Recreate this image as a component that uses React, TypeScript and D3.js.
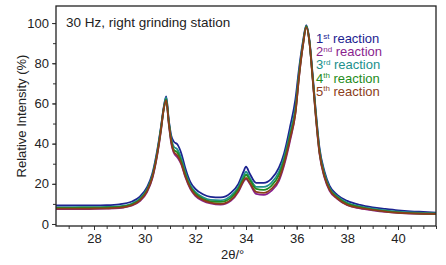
import React, { useEffect, useRef } from 'react'
import { select, scaleLinear, line, curveMonotoneX, axisBottom, axisLeft, range } from 'd3'

// 2theta positions shared by all scans
const twoTheta = [26.5, 27, 27.5, 28, 28.5, 29, 29.5, 29.8, 30.1, 30.3, 30.5, 30.65, 30.75, 30.85, 30.95, 31.05, 31.15, 31.3, 31.45, 31.6, 31.8, 32, 32.3, 32.6, 33, 33.4, 33.7, 33.9, 34.0, 34.15, 34.4, 34.7, 35, 35.3, 35.5, 35.75, 35.95, 36.1, 36.25, 36.38, 36.5, 36.62, 36.75, 36.9, 37.1, 37.3, 37.6, 38, 38.5, 39, 39.5, 40, 40.5, 41, 41.5]

const reaction1 = [9.2, 9.2, 9.3, 9.3, 9.4, 9.8, 11.2, 13.5, 18.5, 25, 37, 49, 58, 63.5, 52, 44, 41, 39.5, 35, 28, 21, 17.5, 14.8, 13.5, 13.2, 15.5, 20, 26, 28.5, 25, 20.5, 20.5, 22.5, 28, 35, 49, 62, 78, 91, 99, 92, 76, 57, 38, 26, 19, 14.5, 11.5, 9.5, 8.3, 7.5, 6.8, 6.3, 6, 5.7]
const reaction2 = [7.4, 7.4, 7.4, 7.5, 7.6, 7.9, 9.2, 11.3, 16, 22.5, 34.5, 47, 57, 62, 50, 40, 35.5, 33, 29.5, 23.5, 17.5, 14, 11.5, 10.2, 9.6, 11.5, 16, 21, 22.5, 20, 15, 14.5, 16.5, 21.5, 29, 42, 55, 74, 89, 98, 91, 74, 54, 35, 23, 16.5, 12.5, 9.3, 7.8, 6.8, 6, 5.5, 5.2, 5, 4.9]
const reaction3 = [8.3, 8.3, 8.4, 8.4, 8.5, 8.8, 10.2, 12.5, 17.5, 24, 36, 48.5, 57.5, 63, 51.5, 42.5, 38.5, 37, 32.5, 26, 19.5, 16, 13.3, 12, 11.8, 14, 18.5, 24, 26, 23, 18.5, 18.5, 20.5, 26, 33, 46, 58, 76, 90, 98.5, 91.5, 75, 56, 37, 25, 18, 13.8, 10.5, 8.8, 7.6, 6.8, 6.2, 5.8, 5.5, 5.3]
const reaction4 = [8.0, 8.0, 8.1, 8.1, 8.2, 8.5, 9.8, 12, 17, 23.5, 35.5, 48, 57, 62, 51, 41.5, 37, 35.5, 31, 25, 18.5, 15.2, 12.5, 11.2, 11, 13, 17.5, 22.5, 24.5, 22, 17.5, 17, 19, 24.5, 31.5, 44.5, 56, 75, 89.5, 98.5, 91, 74.5, 55, 36, 24, 17.5, 13.3, 10, 8.4, 7.2, 6.4, 5.8, 5.4, 5.2, 5.1]
const reaction5 = [7.6, 7.6, 7.6, 7.7, 7.8, 8.1, 9.4, 11.6, 16.5, 23, 35, 47.5, 57, 61.5, 50.5, 41, 36, 34, 30, 24, 18, 14.5, 12, 10.6, 10, 12, 16.5, 21.5, 23, 20.5, 16, 15.5, 17.5, 22.5, 30, 43, 55, 74, 89, 98, 91, 74, 54.5, 35.5, 23.5, 17, 12.8, 9.5, 8, 7, 6.2, 5.6, 5.3, 5.1, 5.0]

const seriesNames = ['st', 'nd', 'rd', 'th', 'th']
const seriesData = [reaction1, reaction2, reaction3, reaction4, reaction5]
const seriesColors = ['#1c2390', '#8a1f8e', '#22908c', '#1f8c22', '#8c3d1a']

const yTicks = [0, 20, 40, 60, 80, 100]
const xTicks = [28, 30, 32, 34, 36, 38, 40]

const W = 446, H = 265
const left = 56, right = 436, top = 6, bottom = 226
const font = 'Liberation Sans, Arial, sans-serif'

export default function App() {
  const ref = useRef<SVGSVGElement>(null)

  useEffect(() => {
    const svg = select(ref.current)
    svg.selectAll('*').remove()

    const x = scaleLinear().domain([26.5, 41.5]).range([left, right])
    const y = scaleLinear().domain([-1, 108.5]).range([bottom, top])

    // minor ticks
    svg.append('g')
      .attr('transform', `translate(0,${bottom})`)
      .call(axisBottom(x).tickValues(range(27, 41.6, 0.5)).tickSize(3).tickFormat(() => ''))
      .call(g => g.select('.domain').remove())
      .selectAll('line').attr('stroke', '#333')
    svg.append('g')
      .attr('transform', `translate(${left},0)`)
      .call(axisLeft(y).tickValues(range(0, 101, 10)).tickSize(3).tickFormat(() => ''))
      .call(g => g.select('.domain').remove())
      .selectAll('line').attr('stroke', '#333')

    const xAxis = svg.append('g')
      .attr('transform', `translate(0,${bottom})`)
      .call(axisBottom(x).tickValues(xTicks).tickSize(4).tickPadding(4))
    xAxis.select('.domain').remove()
    xAxis.selectAll('line').attr('stroke', '#333')
    xAxis.selectAll('text').attr('font-size', 13).attr('font-family', font).attr('fill', '#222')

    const yAxis = svg.append('g')
      .attr('transform', `translate(${left},0)`)
      .call(axisLeft(y).tickValues(yTicks).tickSize(4).tickPadding(3))
    yAxis.select('.domain').remove()
    yAxis.selectAll('line').attr('stroke', '#333')
    yAxis.selectAll('text').attr('font-size', 13).attr('font-family', font).attr('fill', '#222')

    const path = line<number>()
      .x((_, i) => x(twoTheta[i]))
      .y(d => y(d))
      .curve(curveMonotoneX)

    seriesData.forEach((s, i) => {
      svg.append('path')
        .datum(s)
        .attr('d', path)
        .attr('fill', 'none')
        .attr('stroke', seriesColors[i])
        .attr('stroke-width', 1.8)
    })

    // frame
    svg.append('rect')
      .attr('x', left).attr('y', top)
      .attr('width', right - left).attr('height', bottom - top)
      .attr('fill', 'none').attr('stroke', '#222').attr('stroke-width', 1.3)

    svg.append('text')
      .attr('x', 66).attr('y', 27)
      .attr('font-size', 13.5).attr('font-family', font).attr('fill', '#222')
      .text('30 Hz, right grinding station')

    seriesNames.forEach((sup, i) => {
      const t = svg.append('text')
        .attr('x', 316).attr('y', 43 + i * 13.2)
        .attr('font-size', 13).attr('font-family', font).attr('fill', seriesColors[i])
      t.append('tspan').text(String(i + 1))
      t.append('tspan').attr('font-size', 8).attr('dy', -4.5).text(sup)
      t.append('tspan').attr('dy', 4.5).text(' reaction')
    })

    svg.append('text')
      .attr('transform', `translate(26,${(top + bottom) / 2}) rotate(-90)`)
      .attr('text-anchor', 'middle')
      .attr('font-size', 13).attr('font-family', font).attr('fill', '#222')
      .text('Relative Intensity (%)')

    svg.append('text')
      .attr('x', 221).attr('y', 259)
      .attr('font-size', 13).attr('font-family', font).attr('fill', '#222')
      .text('2θ/°')
  }, [])

  return (
    <svg ref={ref} width={W} height={H} style={{ position: 'absolute', left: 0, top: 0, background: '#fff' }} />
  )
}
